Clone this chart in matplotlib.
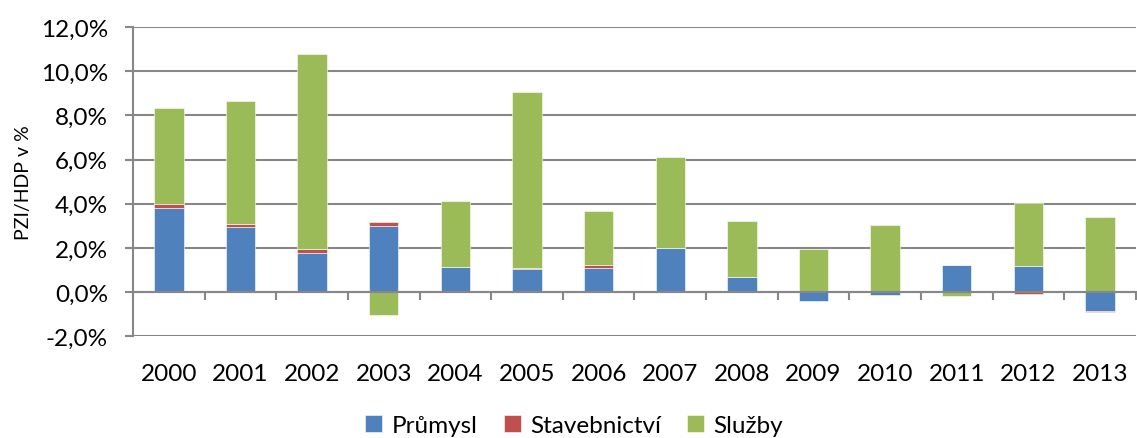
import numpy as np
import matplotlib.pyplot as plt
from matplotlib.ticker import FuncFormatter, MultipleLocator

years = ['2000', '2001', '2002', '2003', '2004', '2005', '2006',
         '2007', '2008', '2009', '2010', '2011', '2012', '2013']

# PZI/HDP v % by sector
prumysl = [3.82, 2.95, 1.76, 2.98, 1.12, 1.04, 1.07, 1.99, 0.68, -0.41, -0.12, 1.24, 1.16, -0.87]
stavebnictvi = [0.16, 0.12, 0.21, 0.17, 0.0, 0.03, 0.14, 0.02, 0.0, 0.0, 0.02, 0.0, -0.08, -0.05]
sluzby = [4.35, 5.59, 8.82, -1.03, 3.02, 7.99, 2.44, 4.12, 2.55, 1.93, 3.0, -0.18, 2.88, 3.39]

series = [('Průmysl', prumysl, '#4F81BD'),
          ('Stavebnictví', stavebnictvi, '#C0504D'),
          ('Služby', sluzby, '#9BBB59')]

plt.rcParams['font.family'] = ['Lato', 'DejaVu Sans']

fig = plt.figure(figsize=(11.37, 4.39), dpi=100)
ax = fig.add_axes([0.117, 0.232, 0.882, 0.704])

x = np.arange(len(years))
pos_bottom = np.zeros(len(years))
neg_bottom = np.zeros(len(years))
for name, vals, color in series:
    v = np.array(vals)
    bottom = np.where(v >= 0, pos_bottom, neg_bottom)
    ax.bar(x, v, 0.41, bottom=bottom, color=color, label=name,
           edgecolor='white', linewidth=0.4, zorder=3)
    pos_bottom += np.where(v >= 0, v, 0)
    neg_bottom += np.where(v < 0, v, 0)

ax.set_xlim(-0.5, len(years) - 0.5)
ax.set_ylim(-2, 12)
ax.yaxis.set_major_locator(MultipleLocator(2))
ax.yaxis.set_major_formatter(FuncFormatter(lambda v, p: f'{v:.1f}%'.replace('.', ',')))
ax.grid(axis='y', color='#878787', linewidth=1.5, zorder=0)
ax.set_axisbelow(True)

for s in ['top', 'right']:
    ax.spines[s].set_visible(False)
ax.spines['left'].set_color('#878787')
ax.spines['left'].set_linewidth(1.5)
ax.spines['bottom'].set_position(('data', 0))
ax.spines['bottom'].set_color('#878787')
ax.spines['bottom'].set_linewidth(1.5)
ax.spines['bottom'].set_zorder(4)

ax.set_xticks(x)
ax.set_xticklabels(years)
ax.set_xticks(np.arange(len(years) + 1) - 0.5, minor=True)
ax.tick_params(axis='x', which='major', length=0, pad=51, labelsize=17.5)
ax.tick_params(axis='x', which='minor', length=6, width=1.5, color='#878787', direction='out')
ax.tick_params(axis='y', length=6, width=1.5, color='#878787', labelsize=17.5, pad=12)

ax.set_ylabel('PZI/HDP v %', fontsize=14, labelpad=6)

fig.legend(loc='lower center', bbox_to_anchor=(0.505, 0.0), ncol=3, frameon=False,
           fontsize=17.5, handlelength=0.7, handleheight=0.7, columnspacing=1.05,
           handletextpad=0.4, borderpad=0.05, borderaxespad=0.05)

fig.savefig('out.png', dpi=100)
